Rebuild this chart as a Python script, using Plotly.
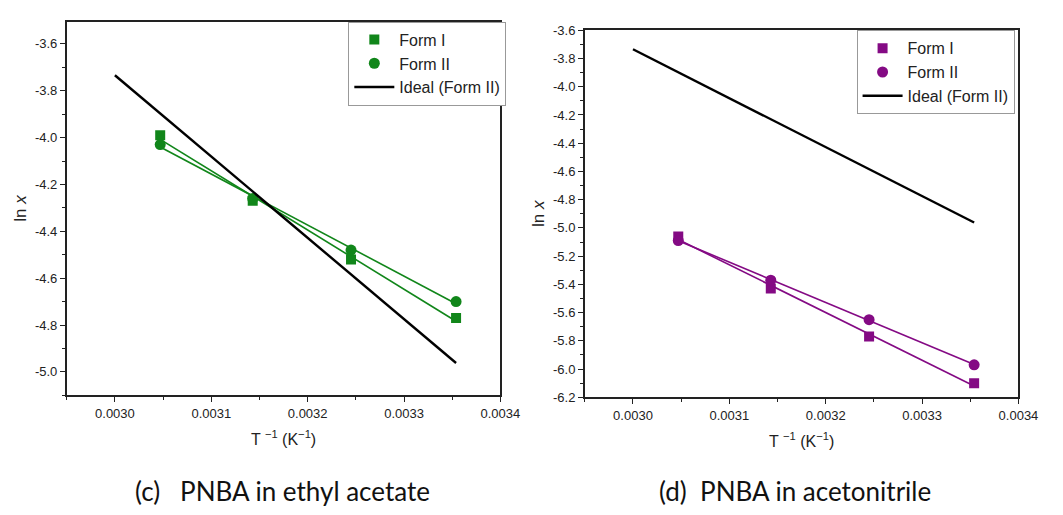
import numpy as np
import plotly.graph_objects as go

# ---- data ----
inv_T = [0.003047, 0.003143, 0.003245, 0.003354]

ea_form1 = [-3.99, -4.27, -4.52, -4.77]
ea_form2 = [-4.03, -4.26, -4.48, -4.70]

acn_form1 = [-5.06, -5.43, -5.77, -6.10]
acn_form2 = [-5.09, -5.37, -5.65, -5.97]

ideal_x = [0.0030, 0.003354]
ideal_y = [-3.734, -4.962]

x_ticks = [0.0030, 0.0031, 0.0032, 0.0033, 0.0034]
x_tick_labels = ["0.0030", "0.0031", "0.0032", "0.0033", "0.0034"]

y1_ticks = [-3.6, -3.8, -4.0, -4.2, -4.4, -4.6, -4.8, -5.0]
y1_tick_labels = ["-3.6", "-3.8", "-4.0", "-4.2", "-4.4", "-4.6", "-4.8", "-5.0"]

y2_ticks = [-3.6, -3.8, -4.0, -4.2, -4.4, -4.6, -4.8, -5.0, -5.2, -5.4, -5.6, -5.8, -6.0, -6.2]
y2_tick_labels = ["-3.6", "-3.8", "-4.0", "-4.2", "-4.4", "-4.6", "-4.8", "-5.0",
                  "-5.2", "-5.4", "-5.6", "-5.8", "-6.0", "-6.2"]

green = "#11861a"
purple = "#840a84"

FONT = "Liberation Sans"

fig = go.Figure()


def fit(x, y):
    k, b = np.polyfit(x, y, 1)
    xs = np.array([min(x), max(x)])
    return xs, k * xs + b


def add_panel(xa, ya, legend, color, f1, f2):
    for ys in (f1, f2):
        fx, fy = fit(inv_T, ys)
        fig.add_trace(go.Scatter(x=fx, y=fy, mode="lines", line=dict(color=color, width=1.6),
                                 showlegend=False, xaxis=xa, yaxis=ya, hoverinfo="skip"))
    fig.add_trace(go.Scatter(x=inv_T, y=f1, mode="markers", name="Form I",
                             marker=dict(symbol="square", size=10, color=color),
                             xaxis=xa, yaxis=ya, legend=legend))
    fig.add_trace(go.Scatter(x=inv_T, y=f2, mode="markers", name="Form II",
                             marker=dict(symbol="circle", size=11, color=color),
                             xaxis=xa, yaxis=ya, legend=legend))
    fig.add_trace(go.Scatter(x=ideal_x, y=ideal_y, mode="lines", name="Ideal (Form II)",
                             line=dict(color="black", width=2.4),
                             xaxis=xa, yaxis=ya, legend=legend))


add_panel("x", "y", "legend", green, ea_form1, ea_form2)
add_panel("x2", "y2", "legend2", purple, acn_form1, acn_form2)

W, H = 1063, 515
tickfont = dict(family=FONT, size=13, color="#222")

common_x = dict(range=[0.00295, 0.0034], tickvals=x_ticks, ticktext=x_tick_labels,
                ticks="outside", ticklen=5, tickwidth=1, tickcolor="#222",
                minor=dict(ticks="outside", ticklen=3, dtick=0.00005, tick0=0.0, tickcolor="#222"),
                showline=True, linecolor="#222", linewidth=1.5, mirror=True,
                showgrid=False, zeroline=False, tickfont=tickfont,
                title=dict(text="T <sup>−1</sup> (K<sup>−1</sup>)", standoff=14,
                           font=dict(family=FONT, size=16, color="#222")))
common_y = dict(ticks="outside", ticklen=5, tickwidth=1, tickcolor="#222",
                minor=dict(ticks="outside", ticklen=3, dtick=0.1, tickcolor="#222"),
                showline=True, linecolor="#222", linewidth=1.5, mirror=True,
                showgrid=False, zeroline=False, tickfont=tickfont,
                title=dict(text="ln <i>x</i>", standoff=4,
                           font=dict(family=FONT, size=17, color="#222")))

legend_common = dict(xanchor="left", yanchor="top", bgcolor="white", bordercolor="#999",
                     borderwidth=1, font=dict(family=FONT, size=16, color="#222"),
                     tracegroupgap=0, itemwidth=40)

fig.update_layout(
    width=W, height=H,
    margin=dict(l=0, r=0, t=0, b=0),
    paper_bgcolor="white", plot_bgcolor="white",
    xaxis=dict(domain=[68 / W, 510 / W], anchor="y", **common_x),
    yaxis=dict(domain=[1 - 400 / H, 1 - 15 / H], anchor="x", range=[-5.1, -3.505],
               tickvals=y1_ticks, ticktext=y1_tick_labels, **common_y),
    xaxis2=dict(domain=[596 / W, 1038 / W], anchor="y2", **common_x),
    yaxis2=dict(domain=[1 - 402 / H, 1 - 24 / H], anchor="x2", range=[-6.2, -3.6],
                tickvals=y2_ticks, ticktext=y2_tick_labels, **common_y),
    legend=dict(x=355 / W, y=1 - 15 / H, **legend_common),
    legend2=dict(x=873 / W, y=1 - 24 / H, **legend_common),
    annotations=[
        dict(text="(c)   PNBA in ethyl acetate", x=288 / W, y=1 - 499 / H,
             xref="paper", yref="paper", showarrow=False, xanchor="center", yanchor="middle",
             font=dict(family="Lato", size=26, color="#111")),
        dict(text="(d)  PNBA in acetonitrile", x=810 / W, y=1 - 499 / H,
             xref="paper", yref="paper", showarrow=False, xanchor="center", yanchor="middle",
             font=dict(family="Lato", size=26, color="#111")),
    ],
)

fig.write_html("out.html")
